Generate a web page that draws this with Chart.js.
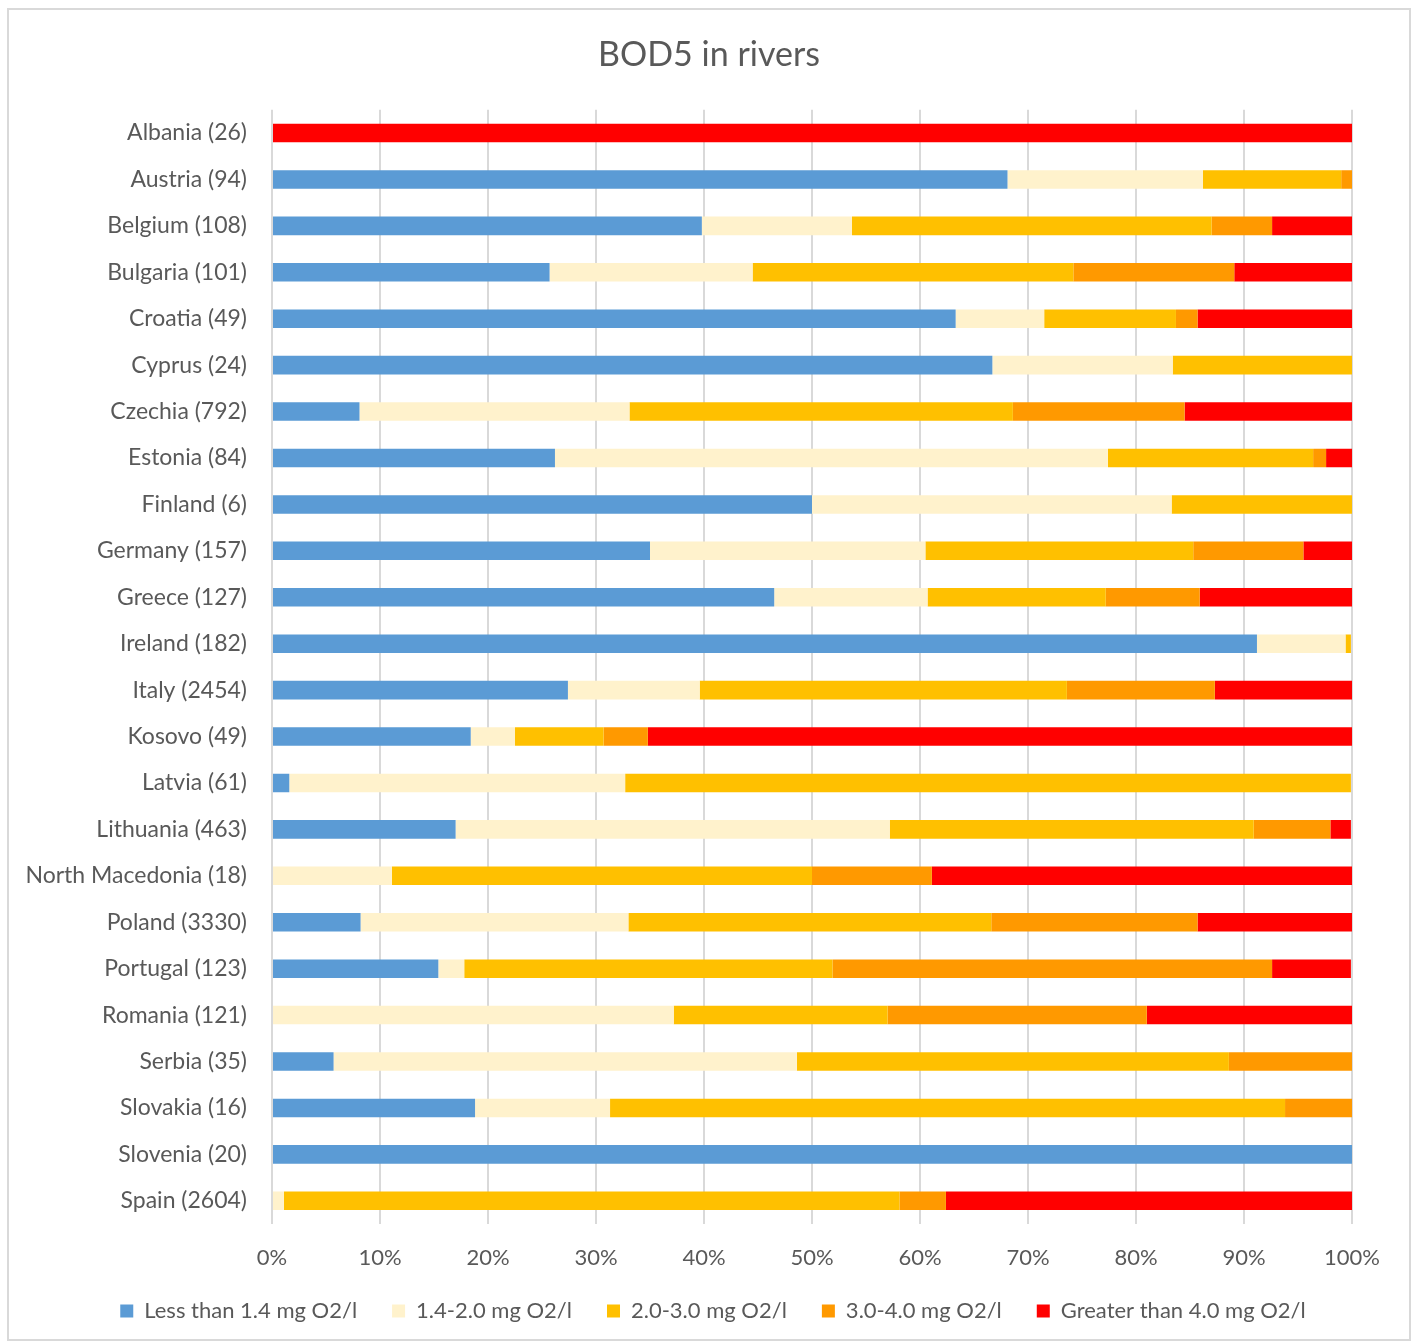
<!DOCTYPE html>
<html>
<head>
<meta charset="utf-8">
<script src="https://cdn.jsdelivr.net/npm/chart.js@4.4.1/dist/chart.umd.min.js"></script>
<style>
  body { margin: 0; background: #fff; }
  #wrap { position: absolute; left: 0; top: 0; width: 1416px; height: 1344px; }
  #frame { position: absolute; left: 7px; top: 8px; width: 1400px; height: 1329px; border: 2px solid #d9d9d9; pointer-events: none; }
</style>
</head>
<body>
<div id="wrap"><canvas id="bod-chart"></canvas></div>
<div id="frame"></div>
<script>
let countries = ['Albania (26)', 'Austria (94)', 'Belgium (108)', 'Bulgaria (101)', 'Croatia (49)',
  'Cyprus (24)', 'Czechia (792)', 'Estonia (84)', 'Finland (6)', 'Germany (157)', 'Greece (127)',
  'Ireland (182)', 'Italy (2454)', 'Kosovo (49)', 'Latvia (61)', 'Lithuania (463)',
  'North Macedonia (18)', 'Poland (3330)', 'Portugal (123)', 'Romania (121)', 'Serbia (35)',
  'Slovakia (16)', 'Slovenia (20)', 'Spain (2604)'];

let lessThan14 = [0, 68.1, 39.8, 25.7, 63.3, 66.7, 8.1, 26.2, 50.0, 35.0, 46.5, 91.2, 27.4, 18.4, 1.6, 17.0, 0, 8.2, 15.4, 0, 5.7, 18.8, 100, 0];
let from14to20 = [0, 18.1, 13.9, 18.8, 8.2, 16.7, 25.0, 51.2, 33.3, 25.5, 14.2, 8.2, 12.2, 4.1, 31.1, 40.2, 11.1, 24.8, 2.4, 37.2, 42.9, 12.5, 0, 1.1];
let from20to30 = [0, 12.8, 33.3, 29.7, 12.2, 16.7, 35.5, 19.0, 16.7, 24.8, 16.5, 0.5, 34.0, 8.2, 67.2, 33.7, 38.9, 33.6, 34.1, 19.8, 40.0, 62.5, 0, 57.0];
let from30to40 = [0, 1.1, 5.6, 14.9, 2.0, 0, 15.9, 1.2, 0, 10.2, 8.7, 0, 13.7, 4.1, 0, 7.1, 11.1, 19.1, 40.7, 24.0, 11.4, 6.2, 0, 4.3];
let greaterThan40 = [100, 0, 7.4, 10.9, 14.3, 0, 15.5, 2.4, 0, 4.5, 14.2, 0, 12.7, 65.3, 0, 1.9, 38.9, 14.3, 7.3, 19.0, 0, 0, 0, 37.6];

let seriesNames = ['Less than 1.4 mg O2/l', '1.4-2.0 mg O2/l', '2.0-3.0 mg O2/l', '3.0-4.0 mg O2/l', 'Greater than 4.0 mg O2/l'];
let xTicks = [0, 10, 20, 30, 40, 50, 60, 70, 80, 90, 100];

let textColor = '#595959';
let fontFamily = 'Lato, "Open Sans", sans-serif';

function makeSet(label, data, color) {
  return {
    label: label,
    data: data,
    backgroundColor: color,
    borderWidth: 0,
    barPercentage: 0.4,
    categoryPercentage: 1.0
  };
}

// title and legend are centred a bit right of the canvas middle in the original
let shiftBlocks = {
  id: 'shiftBlocks',
  afterLayout(chart) {
    if (chart.titleBlock) {
      chart.titleBlock.left = 66;
      chart.titleBlock.right = 1352;
      chart.titleBlock.width = 1352 - 66;
    }
    if (chart.legend) {
      chart.legend.left = 74;
      chart.legend.right = 1352;
      chart.legend.width = 1352 - 74;
    }
  }
};

let bodChart = new Chart(document.getElementById('bod-chart').getContext('2d'), {
  type: 'bar',
  data: {
    labels: countries,
    datasets: [
      makeSet(seriesNames[0], lessThan14, '#5B9BD5'),
      makeSet(seriesNames[1], from14to20, '#FFF2CC'),
      makeSet(seriesNames[2], from20to30, '#FFC000'),
      makeSet(seriesNames[3], from30to40, '#FF9900'),
      makeSet(seriesNames[4], greaterThan40, '#FF0000')
    ]
  },
  plugins: [shiftBlocks],
  options: {
    indexAxis: 'y',
    responsive: true,
    maintainAspectRatio: false,
    animation: false,
    layout: { padding: { left: 0, right: 64, top: 0, bottom: 12 } },
    plugins: {
      title: {
        display: true,
        text: 'BOD5 in rivers',
        color: textColor,
        font: { family: fontFamily, size: 34, weight: 'normal' },
        padding: { top: 35, bottom: 34 }
      },
      legend: {
        position: 'bottom',
        labels: {
          color: textColor,
          font: { family: fontFamily, size: 22 },
          boxWidth: 13,
          boxHeight: 13,
          padding: 35
        }
      },
      tooltip: { enabled: false }
    },
    scales: {
      x: {
        stacked: true,
        min: 0,
        max: 100,
        afterBuildTicks: function (scale) {
          scale.ticks = xTicks.map(v => ({ value: v }));
        },
        afterFit: function (scale) { scale.height = 41; },
        grid: { color: '#d9d9d9', lineWidth: 2, drawTicks: false },
        border: { display: false },
        ticks: {
          color: textColor,
          font: { family: fontFamily, size: 22 },
          padding: 21,
          callback: v => v + '%'
        }
      },
      y: {
        stacked: true,
        afterFit: function (scale) { scale.width = 272; },
        grid: { display: false },
        border: { display: false },
        ticks: {
          color: textColor,
          font: { family: fontFamily, size: 23 },
          padding: 17,
          autoSkip: false
        }
      }
    }
  }
});
</script>
</body>
</html>
